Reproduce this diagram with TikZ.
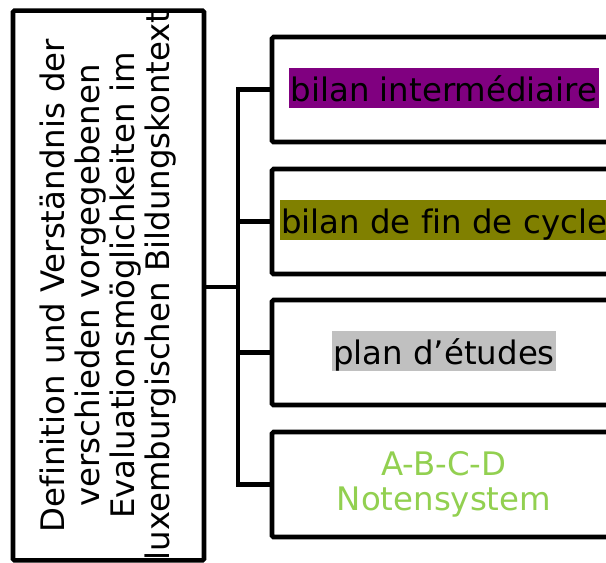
\documentclass[tikz,border=0pt]{standalone}
\usepackage{fontspec}
\setmainfont[Ligatures=NoCommon]{DejaVu Sans}
\definecolor{hlpurple}{RGB}{128,0,128}
\definecolor{hlolive}{RGB}{128,128,0}
\definecolor{hlgray}{RGB}{192,192,192}
\definecolor{txtgreen}{RGB}{146,208,80}
\tikzset{
  mainbox/.style={draw, line width=4.6pt, rounded corners=1.5pt, fill=white},
  itembox/.style={mainbox, minimum width=344pt, minimum height=105pt, inner sep=0pt},
  hl/.style={inner xsep=1.5pt, inner ysep=0pt, text height=34pt, text depth=6.5pt},
  conn/.style={line width=4.6pt},
  bigfont/.style={font=\fontsize{32.4}{35}\selectfont}
}
\begin{document}
\begin{tikzpicture}[x=1pt,y=-1pt]
\useasboundingbox (0,0) rectangle (606,563);
\clip (0,0) rectangle (606,563);
\node[mainbox, rotate=90, minimum width=549pt, minimum height=191pt, inner sep=0pt, align=center, bigfont] (L) at (108.5,285.5)
  {Definition und Verständnis der\\verschieden vorgegebenen\\Evaluationsmöglichkeiten im\\luxemburgischen Bildungskontext};
\node[itembox] (b1) at (444,89.5) {};
\node[itembox] (b2) at (444,221.5) {};
\node[itembox] (b3) at (444,352.5) {};
\node[itembox] (b4) at (444,484.5) {};
\node[hl, fill=hlpurple, bigfont] (t1) at ([yshift=1.5pt]b1.center) {bilan intermédiaire};
\node[hl, fill=hlolive, bigfont] (t2) at ([yshift=1.5pt]b2.center) {bilan de fin de cycle};
\node[hl, fill=hlgray, bigfont] (t3) at ([yshift=1.5pt]b3.center) {plan d’études};
\node[align=center, text=txtgreen, bigfont, inner sep=0pt] (t4) at ([yshift=0pt]b4.center) {A-B-C-D\\Notensystem};
\coordinate (T) at (238,287);
\draw[conn] (L.south |- T) -- (T);
\draw[conn] (b1.west) -- (b1.west -| T) -- (b4.west -| T) -- (b4.west);
\draw[conn] (b2.west) -- (b2.west -| T);
\draw[conn] (b3.west) -- (b3.west -| T);
\end{tikzpicture}
\end{document}
